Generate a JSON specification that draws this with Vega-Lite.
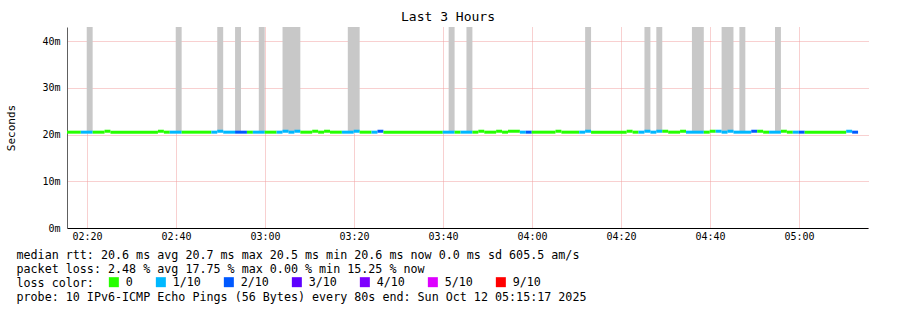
{
  "$schema": "https://vega.github.io/schema/vega-lite/v6.json",
  "width": 801,
  "height": 201,
  "autosize": "none",
  "padding": {"left": 67, "top": 27, "right": 29, "bottom": 82},
  "background": "white",
  "config": {"view": {"stroke": null}},
  "title": {"text": "Last 3 Hours", "font": "DejaVu Sans Mono", "fontSize": 13, "fontWeight": "normal", "color": "#000000", "anchor": "middle", "frame": "group", "dx": -19.5, "offset": 3},
  "datasets": {
    "smoke": [
      {"s": "2025-10-12T02:19:56", "e": "2025-10-12T02:21:16", "lo": 0.0206, "hi": 0.05},
      {"s": "2025-10-12T02:39:56", "e": "2025-10-12T02:41:16", "lo": 0.0206, "hi": 0.05},
      {"s": "2025-10-12T02:49:16", "e": "2025-10-12T02:50:36", "lo": 0.0206, "hi": 0.05},
      {"s": "2025-10-12T02:53:16", "e": "2025-10-12T02:54:36", "lo": 0.0206, "hi": 0.05},
      {"s": "2025-10-12T02:58:36", "e": "2025-10-12T02:59:56", "lo": 0.0206, "hi": 0.05},
      {"s": "2025-10-12T03:03:56", "e": "2025-10-12T03:07:56", "lo": 0.0206, "hi": 0.05},
      {"s": "2025-10-12T03:18:36", "e": "2025-10-12T03:21:16", "lo": 0.0206, "hi": 0.05},
      {"s": "2025-10-12T03:41:16", "e": "2025-10-12T03:42:36", "lo": 0.0206, "hi": 0.05},
      {"s": "2025-10-12T03:45:16", "e": "2025-10-12T03:46:36", "lo": 0.0206, "hi": 0.05},
      {"s": "2025-10-12T04:11:56", "e": "2025-10-12T04:13:16", "lo": 0.0206, "hi": 0.05},
      {"s": "2025-10-12T04:25:16", "e": "2025-10-12T04:26:36", "lo": 0.0206, "hi": 0.05},
      {"s": "2025-10-12T04:27:56", "e": "2025-10-12T04:29:16", "lo": 0.0206, "hi": 0.05},
      {"s": "2025-10-12T04:35:56", "e": "2025-10-12T04:38:36", "lo": 0.0206, "hi": 0.05},
      {"s": "2025-10-12T04:42:36", "e": "2025-10-12T04:45:16", "lo": 0.0206, "hi": 0.05},
      {"s": "2025-10-12T04:46:36", "e": "2025-10-12T04:47:56", "lo": 0.0206, "hi": 0.05},
      {"s": "2025-10-12T04:54:36", "e": "2025-10-12T04:55:56", "lo": 0.0206, "hi": 0.05}
    ],
    "median": [
      {"s": "2025-10-12T02:14:36", "e": "2025-10-12T02:18:36", "rtt": 0.0205, "loss": "0"},
      {"s": "2025-10-12T02:18:36", "e": "2025-10-12T02:21:16", "rtt": 0.0205, "loss": "1/10"},
      {"s": "2025-10-12T02:21:16", "e": "2025-10-12T02:23:56", "rtt": 0.0205, "loss": "0"},
      {"s": "2025-10-12T02:23:56", "e": "2025-10-12T02:25:16", "rtt": 0.0207, "loss": "0"},
      {"s": "2025-10-12T02:25:16", "e": "2025-10-12T02:35:56", "rtt": 0.0205, "loss": "0"},
      {"s": "2025-10-12T02:35:56", "e": "2025-10-12T02:37:16", "rtt": 0.0207, "loss": "0"},
      {"s": "2025-10-12T02:37:16", "e": "2025-10-12T02:38:36", "rtt": 0.0205, "loss": "0"},
      {"s": "2025-10-12T02:38:36", "e": "2025-10-12T02:41:16", "rtt": 0.0205, "loss": "1/10"},
      {"s": "2025-10-12T02:41:16", "e": "2025-10-12T02:47:56", "rtt": 0.0205, "loss": "0"},
      {"s": "2025-10-12T02:47:56", "e": "2025-10-12T02:49:16", "rtt": 0.0205, "loss": "1/10"},
      {"s": "2025-10-12T02:49:16", "e": "2025-10-12T02:50:36", "rtt": 0.0207, "loss": "1/10"},
      {"s": "2025-10-12T02:50:36", "e": "2025-10-12T02:53:16", "rtt": 0.0205, "loss": "1/10"},
      {"s": "2025-10-12T02:53:16", "e": "2025-10-12T02:55:56", "rtt": 0.0205, "loss": "2/10"},
      {"s": "2025-10-12T02:55:56", "e": "2025-10-12T02:57:16", "rtt": 0.0205, "loss": "0"},
      {"s": "2025-10-12T02:57:16", "e": "2025-10-12T02:59:56", "rtt": 0.0205, "loss": "1/10"},
      {"s": "2025-10-12T02:59:56", "e": "2025-10-12T03:02:36", "rtt": 0.0205, "loss": "0"},
      {"s": "2025-10-12T03:02:36", "e": "2025-10-12T03:03:56", "rtt": 0.0205, "loss": "1/10"},
      {"s": "2025-10-12T03:03:56", "e": "2025-10-12T03:05:16", "rtt": 0.0207, "loss": "1/10"},
      {"s": "2025-10-12T03:05:16", "e": "2025-10-12T03:06:36", "rtt": 0.0205, "loss": "1/10"},
      {"s": "2025-10-12T03:06:36", "e": "2025-10-12T03:07:56", "rtt": 0.0207, "loss": "1/10"},
      {"s": "2025-10-12T03:07:56", "e": "2025-10-12T03:10:36", "rtt": 0.0205, "loss": "0"},
      {"s": "2025-10-12T03:10:36", "e": "2025-10-12T03:11:56", "rtt": 0.0207, "loss": "0"},
      {"s": "2025-10-12T03:11:56", "e": "2025-10-12T03:13:16", "rtt": 0.0205, "loss": "0"},
      {"s": "2025-10-12T03:13:16", "e": "2025-10-12T03:14:36", "rtt": 0.0207, "loss": "0"},
      {"s": "2025-10-12T03:14:36", "e": "2025-10-12T03:17:16", "rtt": 0.0205, "loss": "0"},
      {"s": "2025-10-12T03:17:16", "e": "2025-10-12T03:19:56", "rtt": 0.0205, "loss": "1/10"},
      {"s": "2025-10-12T03:19:56", "e": "2025-10-12T03:21:16", "rtt": 0.0207, "loss": "1/10"},
      {"s": "2025-10-12T03:21:16", "e": "2025-10-12T03:23:56", "rtt": 0.0205, "loss": "0"},
      {"s": "2025-10-12T03:23:56", "e": "2025-10-12T03:25:16", "rtt": 0.0205, "loss": "1/10"},
      {"s": "2025-10-12T03:25:16", "e": "2025-10-12T03:26:36", "rtt": 0.0207, "loss": "2/10"},
      {"s": "2025-10-12T03:26:36", "e": "2025-10-12T03:39:56", "rtt": 0.0205, "loss": "0"},
      {"s": "2025-10-12T03:39:56", "e": "2025-10-12T03:42:36", "rtt": 0.0205, "loss": "1/10"},
      {"s": "2025-10-12T03:42:36", "e": "2025-10-12T03:43:56", "rtt": 0.0205, "loss": "0"},
      {"s": "2025-10-12T03:43:56", "e": "2025-10-12T03:46:36", "rtt": 0.0205, "loss": "1/10"},
      {"s": "2025-10-12T03:46:36", "e": "2025-10-12T03:47:56", "rtt": 0.0205, "loss": "0"},
      {"s": "2025-10-12T03:47:56", "e": "2025-10-12T03:49:16", "rtt": 0.0207, "loss": "0"},
      {"s": "2025-10-12T03:49:16", "e": "2025-10-12T03:51:56", "rtt": 0.0205, "loss": "0"},
      {"s": "2025-10-12T03:51:56", "e": "2025-10-12T03:53:16", "rtt": 0.0207, "loss": "0"},
      {"s": "2025-10-12T03:53:16", "e": "2025-10-12T03:54:36", "rtt": 0.0205, "loss": "0"},
      {"s": "2025-10-12T03:54:36", "e": "2025-10-12T03:57:16", "rtt": 0.0207, "loss": "0"},
      {"s": "2025-10-12T03:57:16", "e": "2025-10-12T03:58:36", "rtt": 0.0205, "loss": "1/10"},
      {"s": "2025-10-12T03:58:36", "e": "2025-10-12T03:59:56", "rtt": 0.0205, "loss": "2/10"},
      {"s": "2025-10-12T03:59:56", "e": "2025-10-12T04:05:16", "rtt": 0.0205, "loss": "0"},
      {"s": "2025-10-12T04:05:16", "e": "2025-10-12T04:06:36", "rtt": 0.0207, "loss": "0"},
      {"s": "2025-10-12T04:06:36", "e": "2025-10-12T04:10:36", "rtt": 0.0205, "loss": "0"},
      {"s": "2025-10-12T04:10:36", "e": "2025-10-12T04:11:56", "rtt": 0.0205, "loss": "1/10"},
      {"s": "2025-10-12T04:11:56", "e": "2025-10-12T04:13:16", "rtt": 0.0207, "loss": "1/10"},
      {"s": "2025-10-12T04:13:16", "e": "2025-10-12T04:21:16", "rtt": 0.0205, "loss": "0"},
      {"s": "2025-10-12T04:21:16", "e": "2025-10-12T04:22:36", "rtt": 0.0207, "loss": "0"},
      {"s": "2025-10-12T04:22:36", "e": "2025-10-12T04:23:56", "rtt": 0.0205, "loss": "0"},
      {"s": "2025-10-12T04:23:56", "e": "2025-10-12T04:25:16", "rtt": 0.0205, "loss": "1/10"},
      {"s": "2025-10-12T04:25:16", "e": "2025-10-12T04:26:36", "rtt": 0.0207, "loss": "1/10"},
      {"s": "2025-10-12T04:26:36", "e": "2025-10-12T04:27:56", "rtt": 0.0205, "loss": "1/10"},
      {"s": "2025-10-12T04:27:56", "e": "2025-10-12T04:29:16", "rtt": 0.0207, "loss": "1/10"},
      {"s": "2025-10-12T04:29:16", "e": "2025-10-12T04:30:36", "rtt": 0.0207, "loss": "0"},
      {"s": "2025-10-12T04:30:36", "e": "2025-10-12T04:33:16", "rtt": 0.0205, "loss": "0"},
      {"s": "2025-10-12T04:33:16", "e": "2025-10-12T04:34:36", "rtt": 0.0207, "loss": "0"},
      {"s": "2025-10-12T04:34:36", "e": "2025-10-12T04:38:36", "rtt": 0.0205, "loss": "1/10"},
      {"s": "2025-10-12T04:38:36", "e": "2025-10-12T04:39:56", "rtt": 0.0205, "loss": "0"},
      {"s": "2025-10-12T04:39:56", "e": "2025-10-12T04:41:16", "rtt": 0.0207, "loss": "0"},
      {"s": "2025-10-12T04:41:16", "e": "2025-10-12T04:42:36", "rtt": 0.0207, "loss": "1/10"},
      {"s": "2025-10-12T04:42:36", "e": "2025-10-12T04:43:56", "rtt": 0.0205, "loss": "1/10"},
      {"s": "2025-10-12T04:43:56", "e": "2025-10-12T04:45:16", "rtt": 0.0207, "loss": "1/10"},
      {"s": "2025-10-12T04:45:16", "e": "2025-10-12T04:49:16", "rtt": 0.0205, "loss": "1/10"},
      {"s": "2025-10-12T04:49:16", "e": "2025-10-12T04:50:36", "rtt": 0.0207, "loss": "2/10"},
      {"s": "2025-10-12T04:50:36", "e": "2025-10-12T04:51:56", "rtt": 0.0207, "loss": "0"},
      {"s": "2025-10-12T04:51:56", "e": "2025-10-12T04:53:16", "rtt": 0.0205, "loss": "0"},
      {"s": "2025-10-12T04:53:16", "e": "2025-10-12T04:55:56", "rtt": 0.0205, "loss": "1/10"},
      {"s": "2025-10-12T04:55:56", "e": "2025-10-12T04:57:16", "rtt": 0.0207, "loss": "0"},
      {"s": "2025-10-12T04:57:16", "e": "2025-10-12T04:58:36", "rtt": 0.0205, "loss": "0"},
      {"s": "2025-10-12T04:58:36", "e": "2025-10-12T04:59:56", "rtt": 0.0205, "loss": "1/10"},
      {"s": "2025-10-12T04:59:56", "e": "2025-10-12T05:01:16", "rtt": 0.0205, "loss": "2/10"},
      {"s": "2025-10-12T05:01:16", "e": "2025-10-12T05:10:36", "rtt": 0.0205, "loss": "0"},
      {"s": "2025-10-12T05:10:36", "e": "2025-10-12T05:11:56", "rtt": 0.0207, "loss": "1/10"},
      {"s": "2025-10-12T05:11:56", "e": "2025-10-12T05:13:16", "rtt": 0.0205, "loss": "2/10"}
    ]
  },
  "layer": [
    {
      "data": {"name": "smoke"},
      "mark": {"type": "rect", "color": "#c8c8c8", "clip": true},
      "encoding": {
        "x": {
          "field": "s", "type": "temporal",
          "scale": {"domain": [{"year": 2025, "month": 10, "date": 12, "hours": 2, "minutes": 15, "seconds": 30}, {"year": 2025, "month": 10, "date": 12, "hours": 5, "minutes": 15, "seconds": 30}]}
        },
        "x2": {"field": "e"},
        "y": {
          "field": "lo", "type": "quantitative",
          "scale": {"domain": [0, 0.043], "nice": false, "zero": true}
        },
        "y2": {"field": "hi"}
      }
    },
    {
      "data": {"name": "median"},
      "mark": {"type": "rule", "strokeWidth": 3, "strokeCap": "butt", "clip": true},
      "encoding": {
        "x": {
          "field": "s", "type": "temporal",
          "axis": {
            "values": [
              {"year": 2025, "month": 10, "date": 12, "hours": 2, "minutes": 20},
              {"year": 2025, "month": 10, "date": 12, "hours": 2, "minutes": 40},
              {"year": 2025, "month": 10, "date": 12, "hours": 3, "minutes": 0},
              {"year": 2025, "month": 10, "date": 12, "hours": 3, "minutes": 20},
              {"year": 2025, "month": 10, "date": 12, "hours": 3, "minutes": 40},
              {"year": 2025, "month": 10, "date": 12, "hours": 4, "minutes": 0},
              {"year": 2025, "month": 10, "date": 12, "hours": 4, "minutes": 20},
              {"year": 2025, "month": 10, "date": 12, "hours": 4, "minutes": 40},
              {"year": 2025, "month": 10, "date": 12, "hours": 5, "minutes": 0}
            ],
            "format": "%H:%M",
            "grid": true, "gridColor": "#f0a0a0", "gridDash": [1, 1], "gridWidth": 1,
            "ticks": false, "labelPadding": 3, "labelFont": "DejaVu Sans Mono", "labelFontSize": 10, "labelColor": "#000000",
            "domain": true, "domainColor": "#000000", "domainWidth": 1,
            "title": [
              "median rtt:  20.6 ms avg  20.7 ms max  20.5 ms min  20.6 ms now   0.0 ms sd  605.5   am/s",
              "packet loss: 2.48 % avg  17.75 % max   0.00 % min  15.25 % now",
              "loss color:",
              "probe:       10 IPv6-ICMP Echo Pings (56 Bytes) every 80s                                     end: Sun Oct 12 05:15:17 2025"
            ],
            "titleX": -51, "titleY": 30, "titleAlign": "left", "titleBaseline": "alphabetic", "titleFont": "DejaVu Sans Mono", "titleFontSize": 11.7, "titleFontWeight": "normal", "titleColor": "#000000", "titleLineHeight": 14
          }
        },
        "x2": {"field": "e"},
        "y": {
          "field": "rtt", "type": "quantitative",
          "axis": {
            "values": [0, 0.01, 0.02, 0.03, 0.04], "format": "~s",
            "grid": true, "gridColor": "#f0a0a0", "gridDash": [1, 1], "gridWidth": 1,
            "ticks": false, "labelPadding": 7, "labelFont": "DejaVu Sans Mono", "labelFontSize": 10, "labelColor": "#000000",
            "domain": true, "domainColor": "#606060", "domainWidth": 1,
            "title": "Seconds", "titleFont": "DejaVu Sans Mono", "titleFontSize": 11, "titleFontWeight": "normal", "titleColor": "#000000", "titlePadding": 25
          }
        },
        "color": {
          "field": "loss", "type": "nominal",
          "scale": {"domain": ["0", "1/10", "2/10", "3/10", "4/10", "5/10", "9/10"], "range": ["#26ff00", "#00b8ff", "#0059ff", "#5e00ff", "#7e00ff", "#dd00ff", "#ff0000"]},
          "legend": {"orient": "none", "legendX": 41, "legendY": 249, "direction": "horizontal", "title": null,
                     "symbolType": "square", "symbolSize": 25, "symbolStrokeWidth": 5,
                     "labelFont": "DejaVu Sans Mono", "labelFontSize": 11.7, "labelColor": "#000000", "labelOffset": 6, "columnPadding": 15}
        }
      }
    }
  ]
}
